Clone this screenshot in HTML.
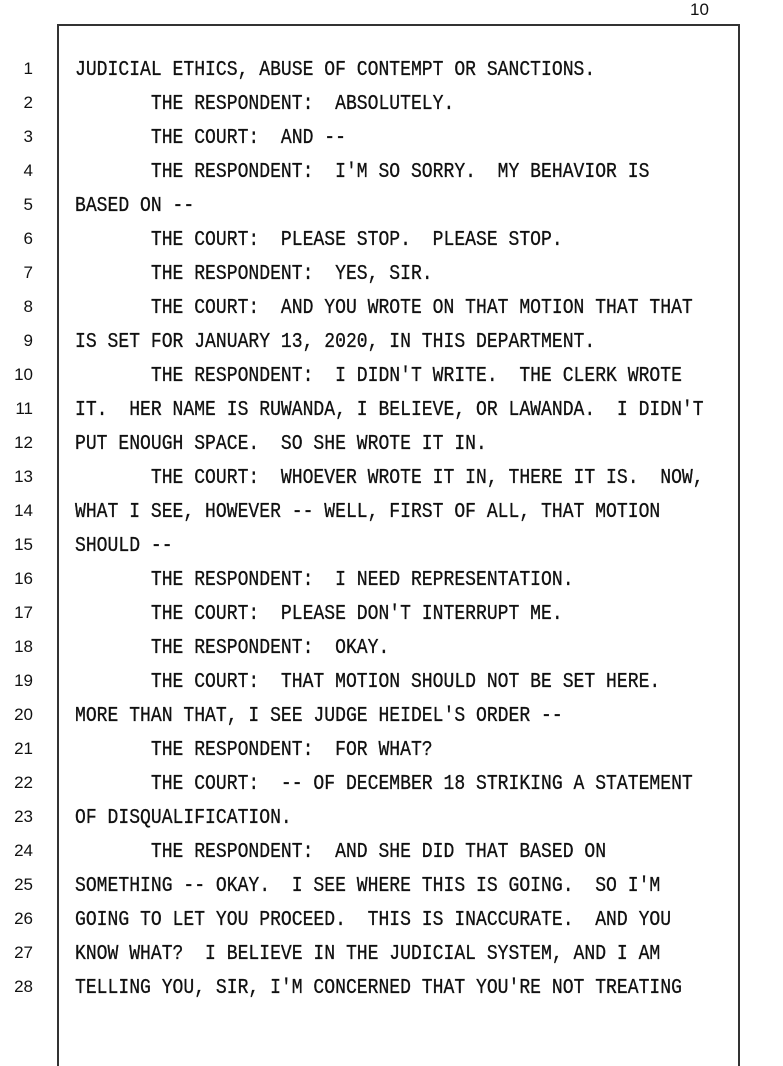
<!DOCTYPE html>
<html><head><meta charset="utf-8"><style>
html,body{margin:0;padding:0;background:#fff;}
body{width:783px;height:1024px;position:relative;overflow:hidden;font-family:"Liberation Mono",monospace;color:#111;}
.box{position:absolute;left:57px;top:24px;width:679px;height:1040px;border:2px solid #333;border-bottom:none;}
.n{position:absolute;left:0;width:33px;text-align:right;font-size:17px;line-height:20px;font-family:"Liberation Sans",sans-serif;}
.t{position:absolute;left:75px;margin-top:2px;font-size:21px;line-height:20px;white-space:pre;transform:scaleX(0.86);transform-origin:0 0;-webkit-text-stroke:0.3px #111;}
.pg{position:absolute;left:690px;top:0;font-size:17px;font-family:"Liberation Sans",sans-serif;}
</style></head><body>
<div class="pg">10</div>
<div class="box"></div>
<div class="n" style="top:59px">1</div><div class="t" style="top:59px">JUDICIAL ETHICS, ABUSE OF CONTEMPT OR SANCTIONS.</div>
<div class="n" style="top:93px">2</div><div class="t" style="top:93px">       THE RESPONDENT:  ABSOLUTELY.</div>
<div class="n" style="top:127px">3</div><div class="t" style="top:127px">       THE COURT:  AND --</div>
<div class="n" style="top:161px">4</div><div class="t" style="top:161px">       THE RESPONDENT:  I'M SO SORRY.  MY BEHAVIOR IS</div>
<div class="n" style="top:195px">5</div><div class="t" style="top:195px">BASED ON --</div>
<div class="n" style="top:229px">6</div><div class="t" style="top:229px">       THE COURT:  PLEASE STOP.  PLEASE STOP.</div>
<div class="n" style="top:263px">7</div><div class="t" style="top:263px">       THE RESPONDENT:  YES, SIR.</div>
<div class="n" style="top:297px">8</div><div class="t" style="top:297px">       THE COURT:  AND YOU WROTE ON THAT MOTION THAT THAT</div>
<div class="n" style="top:331px">9</div><div class="t" style="top:331px">IS SET FOR JANUARY 13, 2020, IN THIS DEPARTMENT.</div>
<div class="n" style="top:365px">10</div><div class="t" style="top:365px">       THE RESPONDENT:  I DIDN'T WRITE.  THE CLERK WROTE</div>
<div class="n" style="top:399px">11</div><div class="t" style="top:399px">IT.  HER NAME IS RUWANDA, I BELIEVE, OR LAWANDA.  I DIDN'T</div>
<div class="n" style="top:433px">12</div><div class="t" style="top:433px">PUT ENOUGH SPACE.  SO SHE WROTE IT IN.</div>
<div class="n" style="top:467px">13</div><div class="t" style="top:467px">       THE COURT:  WHOEVER WROTE IT IN, THERE IT IS.  NOW,</div>
<div class="n" style="top:501px">14</div><div class="t" style="top:501px">WHAT I SEE, HOWEVER -- WELL, FIRST OF ALL, THAT MOTION</div>
<div class="n" style="top:535px">15</div><div class="t" style="top:535px">SHOULD --</div>
<div class="n" style="top:569px">16</div><div class="t" style="top:569px">       THE RESPONDENT:  I NEED REPRESENTATION.</div>
<div class="n" style="top:603px">17</div><div class="t" style="top:603px">       THE COURT:  PLEASE DON'T INTERRUPT ME.</div>
<div class="n" style="top:637px">18</div><div class="t" style="top:637px">       THE RESPONDENT:  OKAY.</div>
<div class="n" style="top:671px">19</div><div class="t" style="top:671px">       THE COURT:  THAT MOTION SHOULD NOT BE SET HERE.</div>
<div class="n" style="top:705px">20</div><div class="t" style="top:705px">MORE THAN THAT, I SEE JUDGE HEIDEL'S ORDER --</div>
<div class="n" style="top:739px">21</div><div class="t" style="top:739px">       THE RESPONDENT:  FOR WHAT?</div>
<div class="n" style="top:773px">22</div><div class="t" style="top:773px">       THE COURT:  -- OF DECEMBER 18 STRIKING A STATEMENT</div>
<div class="n" style="top:807px">23</div><div class="t" style="top:807px">OF DISQUALIFICATION.</div>
<div class="n" style="top:841px">24</div><div class="t" style="top:841px">       THE RESPONDENT:  AND SHE DID THAT BASED ON</div>
<div class="n" style="top:875px">25</div><div class="t" style="top:875px">SOMETHING -- OKAY.  I SEE WHERE THIS IS GOING.  SO I'M</div>
<div class="n" style="top:909px">26</div><div class="t" style="top:909px">GOING TO LET YOU PROCEED.  THIS IS INACCURATE.  AND YOU</div>
<div class="n" style="top:943px">27</div><div class="t" style="top:943px">KNOW WHAT?  I BELIEVE IN THE JUDICIAL SYSTEM, AND I AM</div>
<div class="n" style="top:977px">28</div><div class="t" style="top:977px">TELLING YOU, SIR, I'M CONCERNED THAT YOU'RE NOT TREATING</div>
</body></html>
